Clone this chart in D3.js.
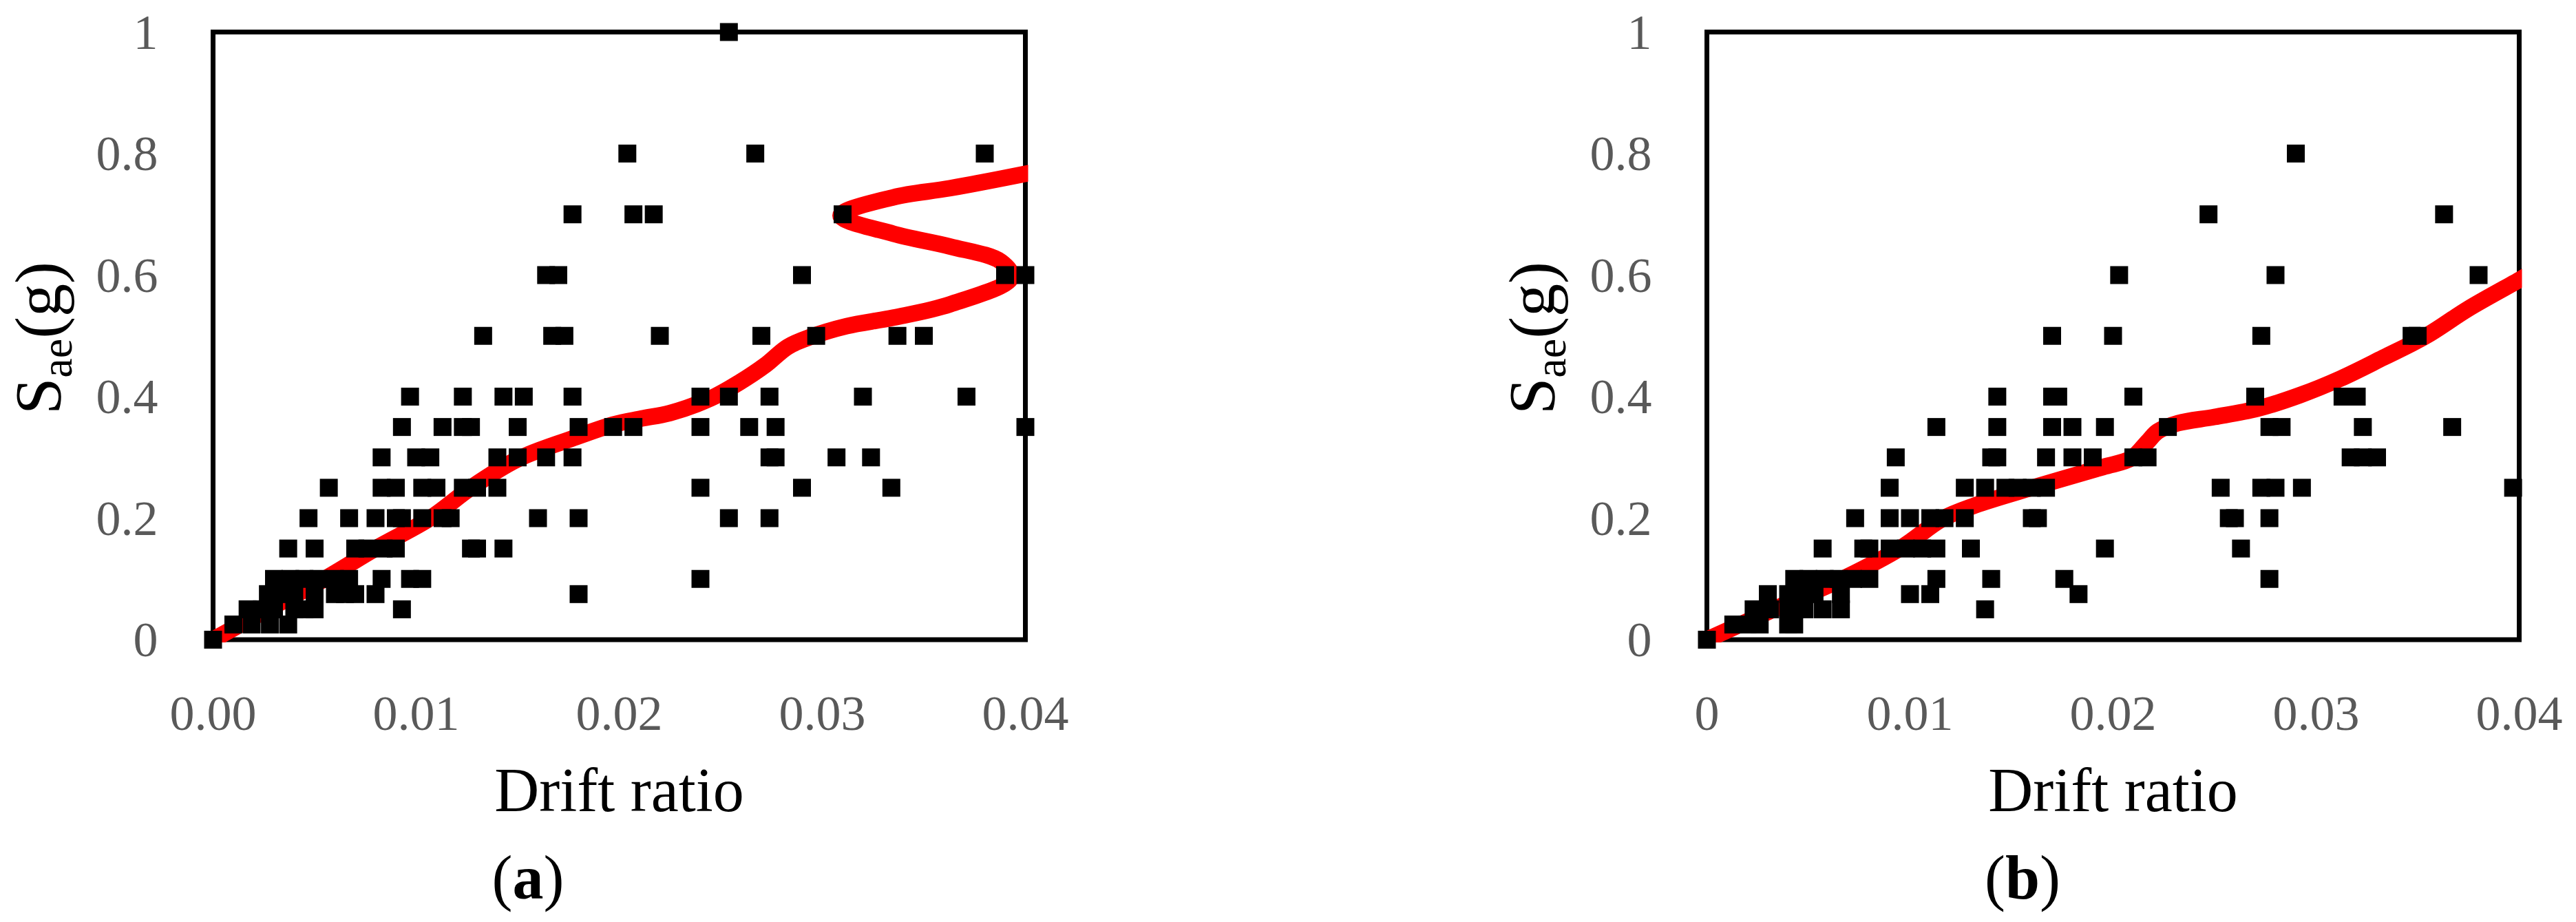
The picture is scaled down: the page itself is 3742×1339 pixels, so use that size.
<!DOCTYPE html>
<html>
<head>
<meta charset="utf-8">
<script src="https://cdn.jsdelivr.net/npm/d3@7/dist/d3.min.js"></script>
<style>
  html, body { margin: 0; padding: 0; background: #ffffff; }
  svg { display: block; }
</style>
</head>
<body>
<svg id="chart" width="3742" height="1339"></svg>
<script>
// ---------------- DATA ----------------
const yTickValues = [0, 0.2, 0.4, 0.6, 0.8, 1];
const yTickLabels = ["0", "0.2", "0.4", "0.6", "0.8", "1"];
const xTickValues = [0, 0.01, 0.02, 0.03, 0.04];
const xTickLabelsA = ["0.00", "0.01", "0.02", "0.03", "0.04"];
const xTickLabelsB = ["0", "0.01", "0.02", "0.03", "0.04"];
const panelCaptions = ["a", "b"];
const xAxisTitle = "Drift ratio";

// scatter points panel (a): [drift ratio, Sae(g)]
const scatterA = [
  [0.0254, 1.0],
  [0.0204, 0.8], [0.0267, 0.8], [0.0380, 0.8],
  [0.0177, 0.7], [0.0207, 0.7], [0.0217, 0.7], [0.0310, 0.7],
  [0.0164, 0.6], [0.0170, 0.6], [0.0290, 0.6], [0.0390, 0.6], [0.0400, 0.6],
  [0.0133, 0.5], [0.0167, 0.5], [0.0173, 0.5], [0.0220, 0.5], [0.0270, 0.5], [0.0297, 0.5], [0.0337, 0.5], [0.0350, 0.5],
  [0.0097, 0.4], [0.0123, 0.4], [0.0143, 0.4], [0.0153, 0.4], [0.0177, 0.4], [0.0240, 0.4], [0.0254, 0.4], [0.0274, 0.4], [0.0320, 0.4], [0.0371, 0.4],
  [0.0093, 0.35], [0.0113, 0.35], [0.0123, 0.35], [0.0127, 0.35], [0.0150, 0.35], [0.0180, 0.35], [0.0197, 0.35], [0.0207, 0.35], [0.0240, 0.35], [0.0264, 0.35], [0.0277, 0.35], [0.0400, 0.35],
  [0.0083, 0.3], [0.0100, 0.3], [0.0107, 0.3], [0.0140, 0.3], [0.0150, 0.3], [0.0164, 0.3], [0.0177, 0.3], [0.0274, 0.3], [0.0277, 0.3], [0.0307, 0.3], [0.0324, 0.3],
  [0.0057, 0.25], [0.0083, 0.25], [0.0090, 0.25], [0.0103, 0.25], [0.0110, 0.25], [0.0123, 0.25], [0.0130, 0.25], [0.0140, 0.25], [0.0240, 0.25], [0.0290, 0.25], [0.0334, 0.25],
  [0.0047, 0.2], [0.0067, 0.2], [0.0080, 0.2], [0.0090, 0.2], [0.0093, 0.2], [0.0103, 0.2], [0.0113, 0.2], [0.0117, 0.2], [0.0160, 0.2], [0.0180, 0.2], [0.0254, 0.2], [0.0274, 0.2],
  [0.0037, 0.15], [0.0050, 0.15], [0.0070, 0.15], [0.0076, 0.15], [0.0084, 0.15], [0.0090, 0.15], [0.0127, 0.15], [0.0130, 0.15], [0.0143, 0.15],
  [0.0030, 0.1], [0.0038, 0.1], [0.0045, 0.1], [0.0052, 0.1], [0.0060, 0.1], [0.0067, 0.1], [0.0083, 0.1], [0.0097, 0.1], [0.0103, 0.1], [0.0240, 0.1],
  [0.0027, 0.075], [0.0034, 0.075], [0.0040, 0.075], [0.0050, 0.075], [0.0060, 0.075], [0.0065, 0.075], [0.0070, 0.075], [0.0080, 0.075], [0.0180, 0.075],
  [0.0017, 0.05], [0.0024, 0.05], [0.0030, 0.05], [0.0040, 0.05], [0.0045, 0.05], [0.0050, 0.05], [0.0093, 0.05],
  [0.0010, 0.025], [0.0019, 0.025], [0.0028, 0.025], [0.0037, 0.025],
  [0.0, 0.0]
];

// scatter points panel (b): [drift ratio, Sae(g)]
const scatterB = [
  [0.0290, 0.8],
  [0.0247, 0.7], [0.0363, 0.7],
  [0.0203, 0.6], [0.0280, 0.6], [0.0380, 0.6],
  [0.0170, 0.5], [0.0200, 0.5], [0.0273, 0.5], [0.0347, 0.5], [0.0350, 0.5],
  [0.0143, 0.4], [0.0170, 0.4], [0.0173, 0.4], [0.0210, 0.4], [0.0270, 0.4], [0.0313, 0.4], [0.0320, 0.4],
  [0.0113, 0.35], [0.0143, 0.35], [0.0170, 0.35], [0.0180, 0.35], [0.0196, 0.35], [0.0227, 0.35], [0.0277, 0.35], [0.0283, 0.35], [0.0323, 0.35], [0.0367, 0.35],
  [0.0093, 0.3], [0.0140, 0.3], [0.0143, 0.3], [0.0167, 0.3], [0.0180, 0.3], [0.0190, 0.3], [0.0210, 0.3], [0.0217, 0.3], [0.0317, 0.3], [0.0323, 0.3], [0.0330, 0.3],
  [0.0090, 0.25], [0.0127, 0.25], [0.0137, 0.25], [0.0147, 0.25], [0.0153, 0.25], [0.0160, 0.25], [0.0167, 0.25], [0.0253, 0.25], [0.0273, 0.25], [0.0280, 0.25], [0.0293, 0.25], [0.0397, 0.25],
  [0.0073, 0.2], [0.0090, 0.2], [0.0100, 0.2], [0.0110, 0.2], [0.0117, 0.2], [0.0127, 0.2], [0.0160, 0.2], [0.0163, 0.2], [0.0257, 0.2], [0.0260, 0.2], [0.0277, 0.2],
  [0.0057, 0.15], [0.0077, 0.15], [0.0080, 0.15], [0.0090, 0.15], [0.0098, 0.15], [0.0106, 0.15], [0.0113, 0.15], [0.0130, 0.15], [0.0196, 0.15], [0.0263, 0.15],
  [0.0043, 0.1], [0.0050, 0.1], [0.0058, 0.1], [0.0065, 0.1], [0.0072, 0.1], [0.0080, 0.1], [0.0113, 0.1], [0.0140, 0.1], [0.0176, 0.1], [0.0277, 0.1],
  [0.0030, 0.075], [0.0040, 0.075], [0.0046, 0.075], [0.0053, 0.075], [0.0066, 0.075], [0.0100, 0.075], [0.0110, 0.075], [0.0183, 0.075],
  [0.0023, 0.05], [0.0031, 0.05], [0.0040, 0.05], [0.0048, 0.05], [0.0057, 0.05], [0.0066, 0.05], [0.0137, 0.05],
  [0.0013, 0.025], [0.0020, 0.025], [0.0026, 0.025], [0.0040, 0.025], [0.0043, 0.025],
  [0.0, 0.0]
];

// fitted (red) curve panel (a): [Sae(g), drift ratio] along the curve
const curveA = [
  [0, 0], [0.05, 0.0027], [0.10, 0.0055], [0.15, 0.0080], [0.20, 0.0107],
  [0.25, 0.0127], [0.297, 0.0150], [0.330, 0.0176], [0.354, 0.0197], [0.364, 0.0211],
  [0.373, 0.0225], [0.397, 0.0245], [0.423, 0.0259], [0.452, 0.0272], [0.482, 0.0283],
  [0.498, 0.0294], [0.516, 0.0312], [0.530, 0.0335], [0.552, 0.0363], [0.596, 0.0393],
  [0.622, 0.0388], [0.647, 0.0363], [0.668, 0.0335], [0.698, 0.0309], [0.728, 0.0335],
  [0.743, 0.0363], [0.768, 0.0402], [0.775, 0.0412]
];

// fitted (red) curve panel (b): [Sae(g), drift ratio]
const curveB = [
  [0, 0], [0.05, 0.0033], [0.102, 0.0068], [0.152, 0.0096], [0.199, 0.0116],
  [0.221, 0.0132], [0.250, 0.0160], [0.284, 0.0195], [0.2985, 0.0209], [0.3257, 0.0217],
  [0.3427, 0.0222], [0.3563, 0.0232], [0.3665, 0.0250], [0.380, 0.0271], [0.4024, 0.0292],
  [0.4296, 0.0312], [0.4639, 0.0333], [0.4995, 0.0354], [0.5448, 0.0375], [0.592, 0.0400],
  [0.600, 0.0404]
];

// ---------------- LAYOUT ----------------
const svg = d3.select("#chart");
svg.append("rect").attr("width", 3742).attr("height", 1339).attr("fill", "#fff");

const plotTop = 46.5, plotBottom = 929, plotWidth = 1180;
const serif = "'Liberation Serif', 'Times New Roman', serif";

const panels = [
  { left: 309.5, scatter: scatterA, curve: curveA, xLabels: xTickLabelsA, caption: panelCaptions[0], captionX: 767 },
  { left: 2479.5, scatter: scatterB, curve: curveB, xLabels: xTickLabelsB, caption: panelCaptions[1], captionX: 2938 }
];

panels.forEach((p, i) => {
  const x = d3.scaleLinear().domain([0, 0.04]).range([p.left, p.left + plotWidth]);
  const y = d3.scaleLinear().domain([0, 1]).range([plotBottom, plotTop]);
  const g = svg.append("g");

  // frame
  g.append("rect")
    .attr("x", x(0)).attr("y", y(1))
    .attr("width", x(0.04) - x(0)).attr("height", y(0) - y(1))
    .attr("fill", "none").attr("stroke", "#000").attr("stroke-width", 7);

  // y tick labels
  g.selectAll(".ytl").data(yTickValues).enter().append("text")
    .attr("x", x(0) - 80).attr("y", d => y(d)).attr("dy", "0.34em")
    .attr("text-anchor", "end")
    .attr("font-family", serif).attr("font-size", 72).attr("fill", "#595959")
    .text((d, k) => yTickLabels[k]);

  // x tick labels
  g.selectAll(".xtl").data(xTickValues).enter().append("text")
    .attr("x", d => x(d)).attr("y", 1060)
    .attr("text-anchor", "middle")
    .attr("font-family", serif).attr("font-size", 72).attr("fill", "#595959")
    .text((d, k) => p.xLabels[k]);

  // x axis title
  g.append("text")
    .attr("x", (x(0) + x(0.04)) / 2).attr("y", 1178)
    .attr("text-anchor", "middle")
    .attr("font-family", serif).attr("font-size", 90).attr("fill", "#000")
    .text(xAxisTitle);

  // y axis title S_ae(g)
  const yt = g.append("text")
    .attr("transform", `translate(${x(0) - 222},491) rotate(-90)`)
    .attr("text-anchor", "middle")
    .attr("font-family", serif).attr("font-size", 96).attr("fill", "#000");
  yt.append("tspan").text("S");
  yt.append("tspan").attr("font-size", 64).attr("dy", 16).text("ae");
  yt.append("tspan").attr("dy", -16).text("(g)");

  // caption
  const cap = g.append("text")
    .attr("x", p.captionX).attr("y", 1305)
    .attr("text-anchor", "middle")
    .attr("font-family", serif).attr("font-size", 90).attr("fill", "#000");
  cap.append("tspan").text("(");
  cap.append("tspan").attr("font-weight", "bold").text(p.caption);
  cap.append("tspan").text(")");

  // clip for curve
  const clipId = "clip" + i;
  svg.append("clipPath").attr("id", clipId).append("rect")
    .attr("x", x(0) - 4).attr("y", y(1) - 4)
    .attr("width", x(0.04) - x(0) + 8).attr("height", y(0) - y(1) + 8);

  const line = d3.line()
    .x(d => x(d[1]))
    .y(d => y(d[0]))
    .curve(d3.curveCatmullRom.alpha(0.5));

  g.append("path")
    .attr("d", line(p.curve))
    .attr("clip-path", `url(#${clipId})`)
    .attr("fill", "none").attr("stroke", "#ff0000")
    .attr("stroke-width", 24).attr("stroke-linejoin", "round");

  // markers
  const s = 26;
  g.selectAll(".pt").data(p.scatter).enter().append("rect")
    .attr("x", d => x(d[0]) - s / 2).attr("y", d => y(d[1]) - s / 2)
    .attr("width", s).attr("height", s).attr("fill", "#000");
});
</script>
</body>
</html>
